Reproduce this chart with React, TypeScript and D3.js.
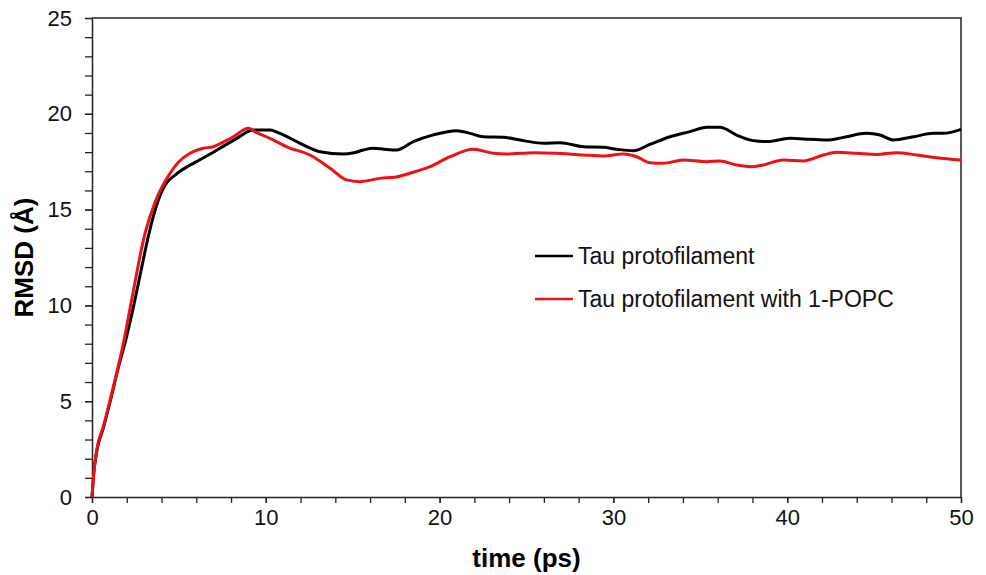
import React, { useRef, useEffect } from 'react';
import * as d3 from 'd3';

// time (ps) / RMSD (Å)
const tauTime = [0, 0.12, 0.3, 0.65, 1.05, 1.5, 2.0, 2.47, 3.0, 3.24, 3.82, 4.3, 4.78, 5.06, 5.6, 6.21, 6.8, 7.36, 8.33, 9.28, 10.24, 10.82, 11.97, 13.12, 14.46, 15.0, 15.61, 16.19, 16.8, 17.53, 18.49, 19.64, 20.98, 21.75, 22.52, 23.67, 24.82, 25.97, 26.93, 28.27, 29.42, 30.19, 31.15, 32.1, 33.26, 34.4, 35.37, 36.13, 37.09, 38.05, 38.82, 40.16, 41.31, 42.27, 43.23, 44.57, 45.34, 46.11, 47.26, 48.41, 48.98, 50];
const tauRmsd = [0, 1.4, 2.5, 3.6, 5.0, 6.7, 8.4, 10.28, 12.6, 13.6, 15.5, 16.4, 16.8, 17.0, 17.3, 17.6, 17.9, 18.2, 18.72, 19.15, 19.15, 18.98, 18.46, 18.02, 17.9, 17.95, 18.11, 18.2, 18.15, 18.11, 18.55, 18.9, 19.12, 18.98, 18.8, 18.77, 18.6, 18.46, 18.49, 18.28, 18.25, 18.15, 18.07, 18.4, 18.8, 19.07, 19.3, 19.3, 18.89, 18.6, 18.55, 18.72, 18.67, 18.63, 18.77, 18.98, 18.89, 18.63, 18.8, 18.98, 18.98, 19.19];

const popcTime = [0, 0.12, 0.27, 0.65, 1.04, 1.32, 1.8, 2.28, 3.05, 3.68, 4.37, 5.0, 5.64, 6.4, 6.98, 7.5, 8.13, 9.0, 9.5, 10.24, 11.2, 12.54, 13.7, 14.65, 15.4, 16.57, 17.5, 18.3, 19.45, 20.6, 21.94, 23.09, 23.86, 25.39, 26.74, 28.27, 29.42, 30.57, 31.34, 32.1, 32.87, 34.02, 35.37, 36.13, 37.09, 38.05, 38.63, 39.78, 40.93, 42.08, 42.85, 44, 45.15, 46.3, 47.45, 48.6, 50];
const popcRmsd = [0, 1.4, 2.45, 3.67, 5.06, 6.1, 8.0, 10.28, 13.76, 15.5, 16.72, 17.5, 17.94, 18.2, 18.28, 18.5, 18.8, 19.24, 19.0, 18.72, 18.28, 17.85, 17.16, 16.55, 16.46, 16.63, 16.7, 16.9, 17.24, 17.76, 18.15, 17.94, 17.9, 17.97, 17.94, 17.85, 17.8, 17.9, 17.76, 17.45, 17.42, 17.59, 17.5, 17.54, 17.33, 17.24, 17.33, 17.59, 17.54, 17.85, 17.99, 17.94, 17.88, 17.97, 17.85, 17.71, 17.59];

const seriesNames = ['Tau protofilament', 'Tau protofilament with 1-POPC'];
const seriesColors = ['#000000', '#ee1111'];

const App = () => {
  const ref = useRef(null);

  useEffect(() => {
    const root = d3.select(ref.current);
    root.selectAll('*').remove();

    const W = 986, H = 575;
    const margin = { top: 18, right: 25, bottom: 78, left: 92 };
    const width = W - margin.left - margin.right;
    const height = H - margin.top - margin.bottom;
    const font = 'Liberation Sans, Arial, sans-serif';
    const axisColor = '#222';

    const svg = root.append('g').attr('transform', `translate(${margin.left},${margin.top})`);

    const x = d3.scaleLinear().domain([0, 50]).range([0, width]);
    const y = d3.scaleLinear().domain([0, 25]).range([height, 0]);

    // minor ticks
    svg.append('g')
      .attr('transform', `translate(0,${height})`)
      .call(d3.axisBottom(x).tickValues(d3.range(0, 51, 2)).tickSize(6).tickFormat(() => ''))
      .call(g => g.select('.domain').remove())
      .call(g => g.selectAll('line').attr('stroke', axisColor).attr('stroke-width', 1.3));
    svg.append('g')
      .call(d3.axisLeft(y).tickValues(d3.range(0, 26, 1)).tickSize(7).tickFormat(() => ''))
      .call(g => g.select('.domain').remove())
      .call(g => g.selectAll('line').attr('stroke', axisColor).attr('stroke-width', 1.3));

    // labelled axes
    svg.append('g')
      .attr('transform', `translate(0,${height})`)
      .call(d3.axisBottom(x).tickValues(d3.range(0, 51, 10)).tickSize(6).tickPadding(6).tickSizeOuter(0))
      .call(g => g.select('.domain').attr('stroke', axisColor).attr('stroke-width', 1.5))
      .call(g => g.selectAll('line').attr('stroke', axisColor).attr('stroke-width', 1.3))
      .call(g => g.selectAll('text').attr('font-family', font).attr('font-size', 22).attr('fill', '#111'));
    svg.append('g')
      .call(d3.axisLeft(y).tickValues(d3.range(0, 26, 5)).tickSize(7).tickPadding(13).tickSizeOuter(0))
      .call(g => g.select('.domain').attr('stroke', axisColor).attr('stroke-width', 1.5))
      .call(g => g.selectAll('line').attr('stroke', axisColor).attr('stroke-width', 1.3))
      .call(g => g.selectAll('text').attr('font-family', font).attr('font-size', 22).attr('fill', '#111'));

    // frame top and right
    svg.append('path')
      .attr('d', `M0,0H${width}V${height}`)
      .attr('fill', 'none')
      .attr('stroke', axisColor)
      .attr('stroke-width', 1.5);

    const line = d3.line()
      .x(d => x(d[0]))
      .y(d => y(d[1]))
      .curve(d3.curveMonotoneX);

    const series = [
      tauTime.map((t, i) => [t, tauRmsd[i]]),
      popcTime.map((t, i) => [t, popcRmsd[i]]),
    ];

    series.forEach((s, i) => {
      svg.append('path')
        .datum(s)
        .attr('fill', 'none')
        .attr('stroke', seriesColors[i])
        .attr('stroke-width', 3)
        .attr('stroke-linejoin', 'round')
        .attr('d', line);
    });

    // legend
    const legend = svg.append('g').attr('transform', `translate(${443},${238})`);
    seriesNames.forEach((name, i) => {
      const row = legend.append('g').attr('transform', `translate(0,${i * 43})`);
      row.append('line')
        .attr('x1', 0).attr('x2', 38).attr('y1', 0).attr('y2', 0)
        .attr('stroke', seriesColors[i]).attr('stroke-width', 2.5);
      row.append('text')
        .attr('x', 43).attr('y', 0).attr('dy', '0.35em')
        .attr('font-family', font).attr('font-size', 23).attr('fill', '#111')
        .text(name);
    });

    // axis titles
    svg.append('text')
      .attr('x', width / 2).attr('y', height + 70)
      .attr('text-anchor', 'middle')
      .attr('font-family', font).attr('font-size', 26).attr('font-weight', 'bold')
      .text('time (ps)');
    svg.append('text')
      .attr('transform', `translate(${-59},${height / 2}) rotate(-90)`)
      .attr('text-anchor', 'middle')
      .attr('font-family', font).attr('font-size', 26).attr('font-weight', 'bold')
      .text('RMSD (Å)');
  }, []);

  return (
    <svg
      ref={ref}
      width={986}
      height={575}
      style={{ position: 'absolute', left: 0, top: 0, background: '#fff' }}
    />
  );
};

export default App;
